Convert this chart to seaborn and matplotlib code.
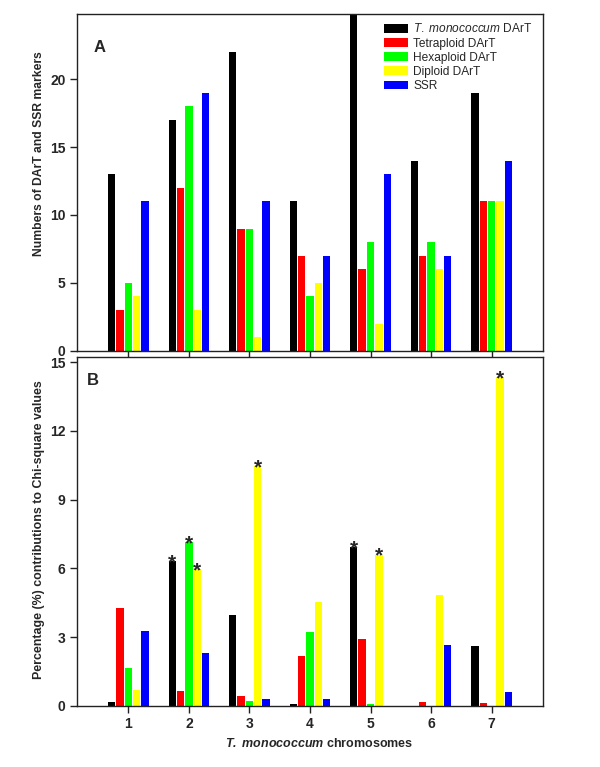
import matplotlib
matplotlib.use("Agg")
import matplotlib.pyplot as plt
import pandas as pd
import seaborn as sns

chromosomes = ["1", "2", "3", "4", "5", "6", "7"]
series = ["T. monococcum DArT", "Tetraploid DArT", "Hexaploid DArT", "Diploid DArT", "SSR"]
colors = ["#000000", "#ff0000", "#00ff00", "#ffff00", "#0000ff"]

# panel A: marker counts per chromosome
mono_counts = [13, 17, 22, 11, 25, 14, 19]
tetra_counts = [3, 12, 9, 7, 6, 7, 11]
hexa_counts = [5, 18, 9, 4, 8, 8, 11]
diplo_counts = [4, 3, 1, 5, 2, 6, 11]
ssr_counts = [11, 19, 11, 7, 13, 7, 14]

# panel B: % contribution to chi-square
mono_chi = [0.17, 6.33, 3.95, 0.09, 6.93, 0.0, 2.59]
tetra_chi = [4.25, 0.64, 0.44, 2.17, 2.91, 0.16, 0.12]
hexa_chi = [1.66, 7.15, 0.22, 3.22, 0.09, 0.0, 0.0]
diplo_chi = [0.68, 5.97, 10.47, 4.54, 6.60, 4.82, 14.34]
ssr_chi = [3.26, 2.29, 0.28, 0.31, 0.0, 2.65, 0.61]

# significant bars in B: (series index, chromosome index)
stars = [(0, 1), (2, 1), (3, 1), (3, 2), (0, 4), (3, 4), (3, 6)]

sns.set_style("white")
plt.rcParams["font.family"] = ["Liberation Sans", "DejaVu Sans"]
plt.rcParams["mathtext.fontset"] = "custom"
plt.rcParams["mathtext.it"] = "Liberation Sans:italic"
plt.rcParams["mathtext.bfit"] = "Liberation Sans:italic:bold"
plt.rcParams["mathtext.rm"] = "Liberation Sans"


def to_long(cols):
    rows = []
    for name, vals in zip(series, cols):
        for c, v in zip(chromosomes, vals):
            rows.append({"Chromosome": c, "Series": name, "Value": v})
    return pd.DataFrame(rows)


def draw_panel(ax, df):
    sns.barplot(data=df, x="Chromosome", y="Value", hue="Series",
                hue_order=series, order=chromosomes, palette=colors,
                saturation=1, width=0.69, gap=0.12, linewidth=0,
                errorbar=None, ax=ax)
    ax.set_xlim(-0.853, 6.85)
    for s in ax.spines.values():
        s.set_visible(True)
        s.set_color("#222222")
        s.set_linewidth(1.0)
    ax.tick_params(axis="both", which="both", direction="out", length=5,
                   width=1, color="#222222", labelsize=10, pad=3,
                   bottom=True, left=True, top=False, right=False)


fig = plt.figure(figsize=(6, 7.67), dpi=100)
ax_a = fig.add_axes([0.128, 0.5428, 0.777, 0.4389])
ax_b = fig.add_axes([0.128, 0.0799, 0.777, 0.4543])

df_a = to_long([mono_counts, tetra_counts, hexa_counts, diplo_counts, ssr_counts])
draw_panel(ax_a, df_a)
ax_a.set_ylim(0, 24.8)
ax_a.set_yticks([0, 5, 10, 15, 20])
ax_a.set_xticklabels([])
ax_a.set_xlabel("")
ax_a.set_ylabel("Numbers of DArT and SSR markers", fontsize=8.7, fontweight="bold")
ax_a.yaxis.set_label_coords(-0.068, 0.585)
for lab in ax_a.get_yticklabels():
    lab.set_fontweight("bold")
handles, labels = ax_a.get_legend_handles_labels()
labels = [r"$\it{T.\ monococcum}$ DArT"] + labels[1:]
ax_a.legend(handles, labels, loc="upper left", bbox_to_anchor=(0.659, 0.975),
            frameon=False, fontsize=8.6, handlelength=2.0, handleheight=0.72,
            labelspacing=0.18, handletextpad=0.45, borderaxespad=0, borderpad=0)
ax_a.text(0.035, 0.888, "A", transform=ax_a.transAxes, fontsize=12, fontweight="bold")

df_b = to_long([mono_chi, tetra_chi, hexa_chi, diplo_chi, ssr_chi])
draw_panel(ax_b, df_b)
ax_b.set_ylim(0, 15.22)
ax_b.set_yticks([0, 3, 6, 9, 12, 15])
for lab in ax_b.get_yticklabels() + ax_b.get_xticklabels():
    lab.set_fontweight("bold")
ax_b.get_legend().remove()
ax_b.set_ylabel("Percentage (%) contributions to Chi-square values", fontsize=8.9,
                fontweight="bold")
ax_b.yaxis.set_label_coords(-0.068, 0.505)
ax_b.set_xlabel(r"$\mathbfit{T.\ monococcum}$ chromosomes", fontsize=9,
                fontweight="bold")
ax_b.xaxis.set_label_coords(0.521, -0.09)
ax_b.text(0.021, 0.919, "B", transform=ax_b.transAxes, fontsize=12, fontweight="bold")

for si, ci in stars:
    bar = ax_b.containers[si][ci]
    ax_b.annotate("*", (bar.get_x() + bar.get_width() / 2, bar.get_height()),
                  xytext=(0, -5.2), textcoords="offset points", ha="center",
                  va="baseline", fontsize=15, fontweight="bold")

fig.savefig("out.png", dpi=100)
